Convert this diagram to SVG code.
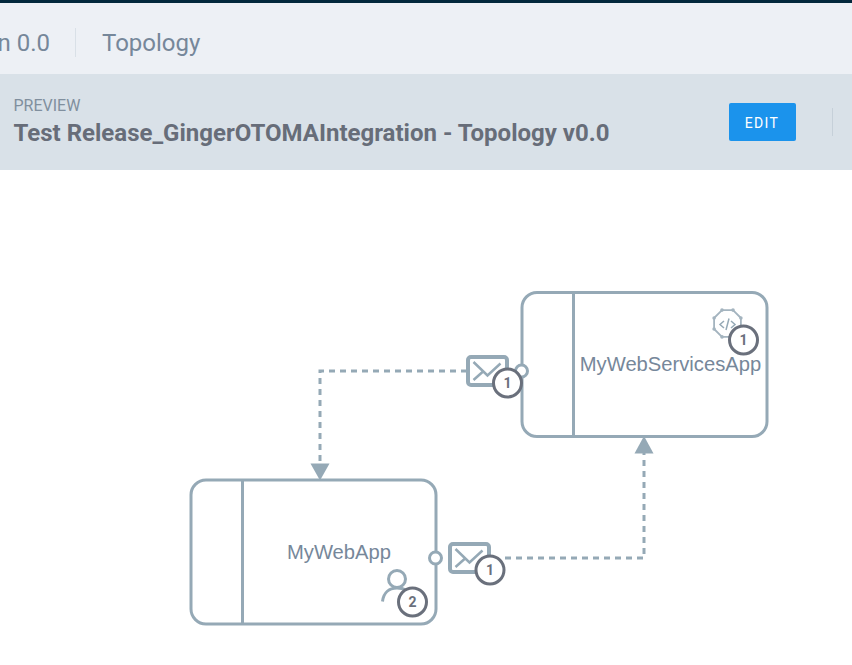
<svg xmlns="http://www.w3.org/2000/svg" width="852" height="665" viewBox="0 0 852 665">
<style>
text{font-family:Roboto,"Liberation Sans",sans-serif}
.box{fill:#fff;stroke:#95a9b6;stroke-width:3}
.div{fill:none;stroke:#95a9b6;stroke-width:3}
.link{fill:none;stroke:#95a9b6;stroke-width:3;stroke-dasharray:6 5}
.name{font-family:"Liberation Sans",Arial,sans-serif;font-size:20.200px;fill:#76879a;text-anchor:middle}
.badge{fill:#fff;stroke:#6a707c;stroke-width:3}
.num{font-size:14px;font-weight:700;fill:#6a707c;text-anchor:middle}
.mail{fill:#fff;stroke:#95a9b6;stroke-width:4}
.ic{fill:none;stroke:#95a9b6;stroke-width:3}
.env{fill:none;stroke:#95a9b6;stroke-width:2.500}
.port{fill:#fff;stroke:#95a9b6;stroke-width:3}
.arrow{fill:#95a9b6}
.knob{fill:#a4b4bf}
</style>
<rect width="852" height="665" fill="#fff"/>
<g id="header">
<rect width="852" height="74" y="0" fill="#edf0f5"/>
<rect width="852" height="3" fill="#03283c"/>
<rect y="74" width="852" height="96" fill="#d9e1e8"/>
<line x1="75.500" y1="28" x2="75.500" y2="57" stroke="#d9e0e7"/>
<line x1="832.500" y1="108" x2="832.500" y2="136" stroke="#c6d0d9"/>
<text x="50" y="51" font-size="24" fill="#76879a" text-anchor="end">n 0.0</text>
<text x="102" y="51" font-size="24" fill="#76879a">Topology</text>
<text x="13.500" y="111" font-size="16" fill="#808f9e">PREVIEW</text>
<text x="13.500" y="141" font-size="24" font-weight="700" fill="#676d79">Test Release_GingerOTOMAIntegration - Topology v0.0</text>
<rect x="729" y="103" width="67" height="38" rx="2" fill="#1b93ec"/>
<text x="762" y="127.500" font-size="14" letter-spacing="1.400" fill="#fff" text-anchor="middle">EDIT</text>
</g>
<g id="connectors">
<path class="link" d="M467 371H320V466"/>
<path class="arrow" d="M310.500 463.500H329.500L320 480.500Z"/>
<path class="link" d="M505 558H644V452"/>
<path class="arrow" d="M634.500 453.500H653.500L644 436Z"/>
</g>
<g id="node-mywebservicesapp">
<rect class="box" x="522" y="292.500" width="245" height="144" rx="15"/>
<line class="div" x1="573.500" y1="292.500" x2="573.500" y2="436.500"/>
<text class="name" x="670.500" y="371">MyWebServicesApp</text>
<path d="M740.900 329L733 336.900H722L714.100 329V318L722 310.100H733L740.900 318Z" fill="#fff" stroke="#a4b4bf" stroke-width="1.800" stroke-linejoin="round"/>
<g class="knob"><circle cx="722" cy="310.100" r="1.800"/><circle cx="733" cy="310.100" r="1.800"/><circle cx="714.100" cy="318" r="1.800"/><circle cx="714.100" cy="329" r="1.800"/><circle cx="722" cy="336.900" r="1.800"/><circle cx="740.900" cy="318" r="1.800"/></g>
<path d="M724 321l-4 3.500 4 3.500M731 321l4 3.500-4 3.500M729 318.500l-3 11.500" fill="none" stroke="#95a9b6" stroke-width="1.500"/>
<circle class="badge" cx="743.500" cy="340" r="14"/>
<text class="num" x="743.500" y="345">1</text>
<circle class="port" cx="521.500" cy="371" r="6"/>
<g>
<rect class="mail" x="468" y="357" width="39" height="28" rx="3"/>
<path class="env" d="M473.500 362l14 13.500 13-12M473.500 380l9-8"/>
<circle class="badge" cx="507.500" cy="383" r="14"/>
<text class="num" x="507.500" y="388">1</text>
</g>
</g>
<g id="node-mywebapp">
<rect class="box" x="191" y="480" width="245" height="144" rx="15"/>
<line class="div" x1="242.500" y1="480" x2="242.500" y2="624"/>
<text class="name" x="339" y="559">MyWebApp</text>
<circle class="ic" cx="397" cy="579" r="8.500"/>
<path class="ic" d="M382.500 601.500c1-9 7-13.500 14.500-13.500 7 0 12 3 14 8"/>
<circle class="badge" cx="412.500" cy="602" r="14"/>
<text class="num" x="412.500" y="607">2</text>
<circle class="port" cx="435.500" cy="558" r="6"/>
<g>
<rect class="mail" x="450" y="544" width="39" height="28" rx="3"/>
<path class="env" d="M455.500 549l14 13.500 13-12M455.500 567l9-8"/>
<circle class="badge" cx="490" cy="570" r="14"/>
<text class="num" x="490" y="575">1</text>
</g>
</g>
</svg>
